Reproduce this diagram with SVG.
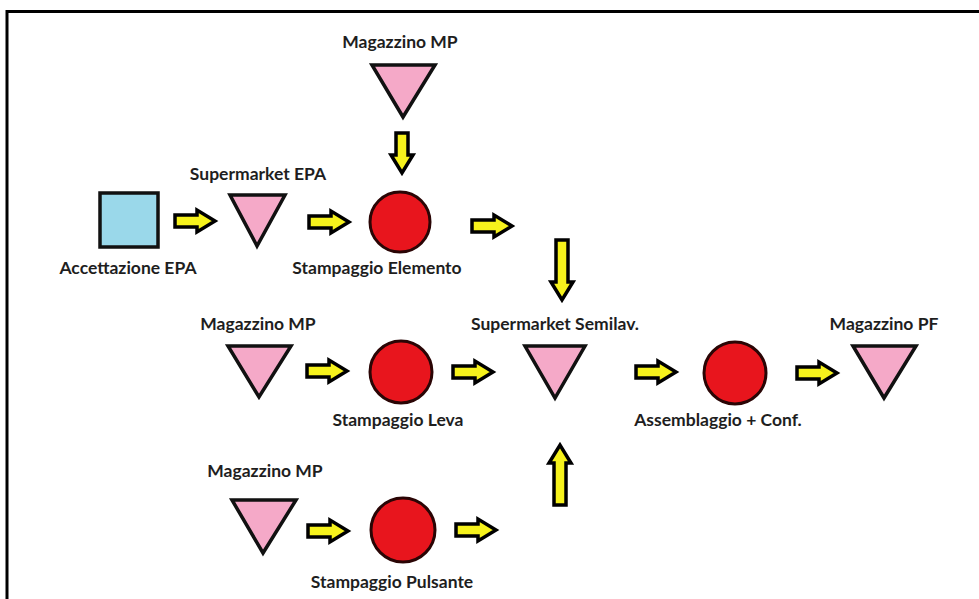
<svg xmlns="http://www.w3.org/2000/svg" xmlns:xlink="http://www.w3.org/1999/xlink" width="979" height="599" viewBox="0 0 979 599">
<style>
.lbl{font-family:Lato,"Open Sans","Liberation Sans",sans-serif;font-weight:bold;font-size:17.5px;fill:#1e1e1e;text-anchor:middle}
.tri{fill:#f5a9c8;stroke:#111;stroke-width:3.5;stroke-linejoin:miter}
.circ{fill:#e8151d;stroke:#2a0505;stroke-width:3}
.sq{fill:#9ad8ea;stroke:#111;stroke-width:3.5}
.arr{fill:#f6f21c;stroke:#000;stroke-width:3.5;stroke-linejoin:miter}
</style>
<defs>
<path id="a" class="arr" d="M-20,-6 H2 V-11 L20,0 L2,11 V6 H-20 Z"/>
<path id="al" class="arr" d="M-30,-6 H12 V-11 L30,0 L12,11 V6 H-30 Z"/>
</defs>
<rect width="979" height="599" fill="#fff"/>
<path d="M7,599 V11.5 H979" fill="none" stroke="#000" stroke-width="3"/>

<g id="accettazione-epa">
<rect class="sq" x="100" y="193" width="58" height="54"/>
<text class="lbl" x="128" y="274">Accettazione EPA</text>
</g>
<g id="supermarket-epa">
<polygon class="tri" points="230,195 285,195 257,246"/>
<text class="lbl" x="258" y="180">Supermarket EPA</text>
</g>
<g id="magazzino-mp-1">
<polygon class="tri" points="372,65 435,65 403,117"/>
<text class="lbl" x="400" y="48">Magazzino MP</text>
</g>
<g id="stampaggio-elemento">
<circle class="circ" cx="400" cy="222" r="30"/>
<text class="lbl" x="377" y="274">Stampaggio Elemento</text>
</g>
<g id="magazzino-mp-2">
<polygon class="tri" points="228,346 291,346 259,397"/>
<text class="lbl" x="258" y="330">Magazzino MP</text>
</g>
<g id="stampaggio-leva">
<circle class="circ" cx="401" cy="372" r="31"/>
<text class="lbl" x="398" y="426">Stampaggio Leva</text>
</g>
<g id="supermarket-semilav">
<polygon class="tri" points="525,346 585,346 555,398"/>
<text class="lbl" x="555" y="330">Supermarket Semilav.</text>
</g>
<g id="assemblaggio">
<circle class="circ" cx="735" cy="373" r="31"/>
<text class="lbl" x="718" y="426">Assemblaggio + Conf.</text>
</g>
<g id="magazzino-pf">
<polygon class="tri" points="853,346 916,346 884,398"/>
<text class="lbl" x="884" y="330">Magazzino PF</text>
</g>
<g id="magazzino-mp-3">
<polygon class="tri" points="232,500 296,500 263,553"/>
<text class="lbl" x="265" y="477">Magazzino MP</text>
</g>
<g id="stampaggio-pulsante">
<circle class="circ" cx="403" cy="530" r="32"/>
<text class="lbl" x="392" y="588">Stampaggio Pulsante</text>
</g>

<g id="connectors">
<use xlink:href="#a" transform="translate(195,221)"/>
<use xlink:href="#a" transform="translate(329,222)"/>
<use xlink:href="#a" transform="translate(402,153) rotate(90)"/>
<use xlink:href="#a" transform="translate(492,226)"/>
<use xlink:href="#al" transform="translate(562,270) rotate(90)"/>
<use xlink:href="#a" transform="translate(327,371)"/>
<use xlink:href="#a" transform="translate(473,372)"/>
<use xlink:href="#a" transform="translate(656,372)"/>
<use xlink:href="#a" transform="translate(817,373)"/>
<use xlink:href="#a" transform="translate(328,531)"/>
<use xlink:href="#a" transform="translate(476,530)"/>
<use xlink:href="#al" transform="translate(560,475) rotate(-90)"/>
</g>
</svg>
